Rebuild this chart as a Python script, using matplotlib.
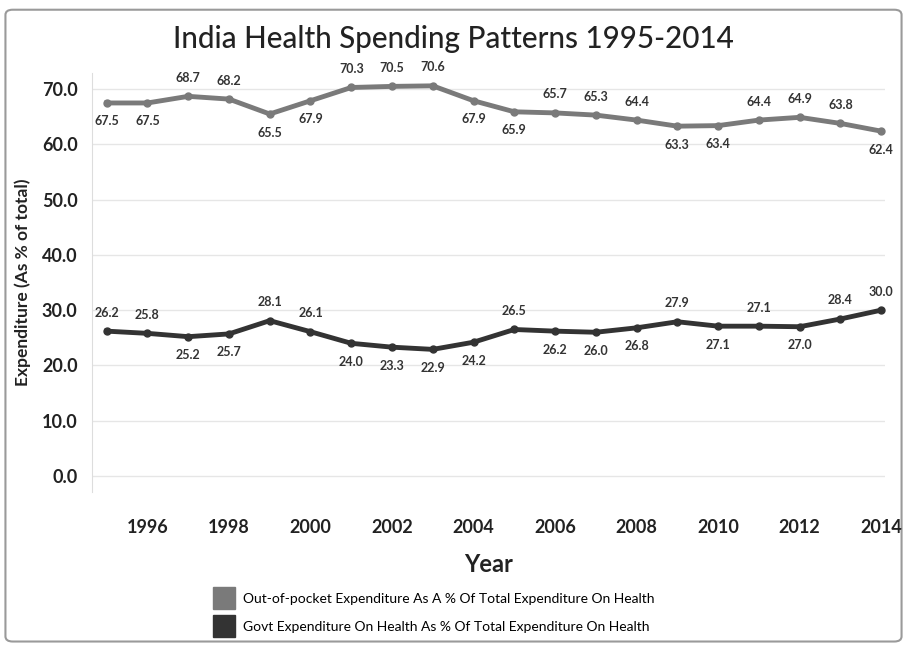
import matplotlib
matplotlib.use("Agg")
import matplotlib.pyplot as plt
from matplotlib.patches import FancyBboxPatch
from matplotlib.lines import Line2D

plt.rcParams['font.family'] = ['Lato', 'DejaVu Sans']

years = list(range(1995, 2015))
oop = [67.5, 67.5, 68.7, 68.2, 65.5, 67.9, 70.3, 70.5, 70.6, 67.9,
       65.9, 65.7, 65.3, 64.4, 63.3, 63.4, 64.4, 64.9, 63.8, 62.4]
govt = [26.2, 25.8, 25.2, 25.7, 28.1, 26.1, 24.0, 23.3, 22.9, 24.2,
        26.5, 26.2, 26.0, 26.8, 27.9, 27.1, 27.1, 27.0, 28.4, 30.0]
# label side for each point: 1 = above, -1 = below
oop_side = [-1, -1, 1, 1, -1, -1, 1, 1, 1, -1, -1, 1, 1, 1, -1, -1, 1, 1, 1, -1]
govt_side = [1, 1, -1, -1, 1, 1, -1, -1, -1, -1, 1, -1, -1, -1, 1, -1, 1, -1, 1, 1]
series_names = ["Out-of-pocket Expenditure As A % Of Total Expenditure On Health",
                "Govt Expenditure On Health As % Of Total Expenditure On Health"]
colors = ["#7a7a7a", "#333333"]

fig = plt.figure(figsize=(9.07, 6.48), dpi=100)
fig.patches.append(FancyBboxPatch((0.006, 0.01), 0.988, 0.975, boxstyle="round,pad=0,rounding_size=0.008",
                                  transform=fig.transFigure, facecolor="white",
                                  edgecolor="#9a9a9a", linewidth=1.5, zorder=-1))
ax = fig.add_axes([0.101, 0.240, 0.875, 0.648])

for vals, side, c in [(oop, oop_side, colors[0]), (govt, govt_side, colors[1])]:
    ax.plot(years, vals, color=c, linewidth=3.5, marker='o', markersize=5, zorder=3)
    for x, y, s in zip(years, vals, side):
        ax.annotate(f"{y:.1f}", (x, y), xytext=(0, 9 * s), textcoords='offset points',
                    ha='center', va='bottom' if s > 0 else 'top', fontsize=9,
                    color="#333333", fontweight='bold')

ax.set_xlim(1994.63, 2014.1)
ax.set_ylim(-3, 73)
ax.set_yticks(range(0, 71, 10))
ax.set_yticklabels([f"{v:.1f}" for v in range(0, 71, 10)])
ax.set_xticks(range(1996, 2015, 2))
ax.tick_params(length=0, labelsize=13, labelcolor="#222222")
for lab in ax.get_xticklabels() + ax.get_yticklabels():
    lab.set_fontweight('bold')
ax.tick_params(axis='x', pad=19)
ax.tick_params(axis='y', pad=10)
ax.grid(axis='y', color="#e6e6e6", linewidth=1)
ax.set_axisbelow(True)
for sp in ['top', 'right', 'bottom']:
    ax.spines[sp].set_visible(False)
ax.spines['left'].set_color("#dddddd")

ax.set_xlabel("Year", fontsize=17, fontweight='bold', color="#222222", labelpad=12)
ax.set_ylabel("Expenditure (As % of total)", fontsize=12.5, fontweight='bold',
              color="#222222", labelpad=8)
fig.suptitle("India Health Spending Patterns 1995-2014", fontsize=21.3, color="#222222",
             fontweight='medium', x=0.5, y=0.962)

handles = [Line2D([0], [0], marker='s', linestyle='none', markersize=16,
                  markerfacecolor=c, markeredgecolor=c) for c in colors]
fig.legend(handles, series_names, loc='upper left', bbox_to_anchor=(0.225, 0.093),
           frameon=False, fontsize=10, handletextpad=0.4, labelspacing=1.15,
           borderaxespad=0)

fig.savefig("out.png", dpi=100)
